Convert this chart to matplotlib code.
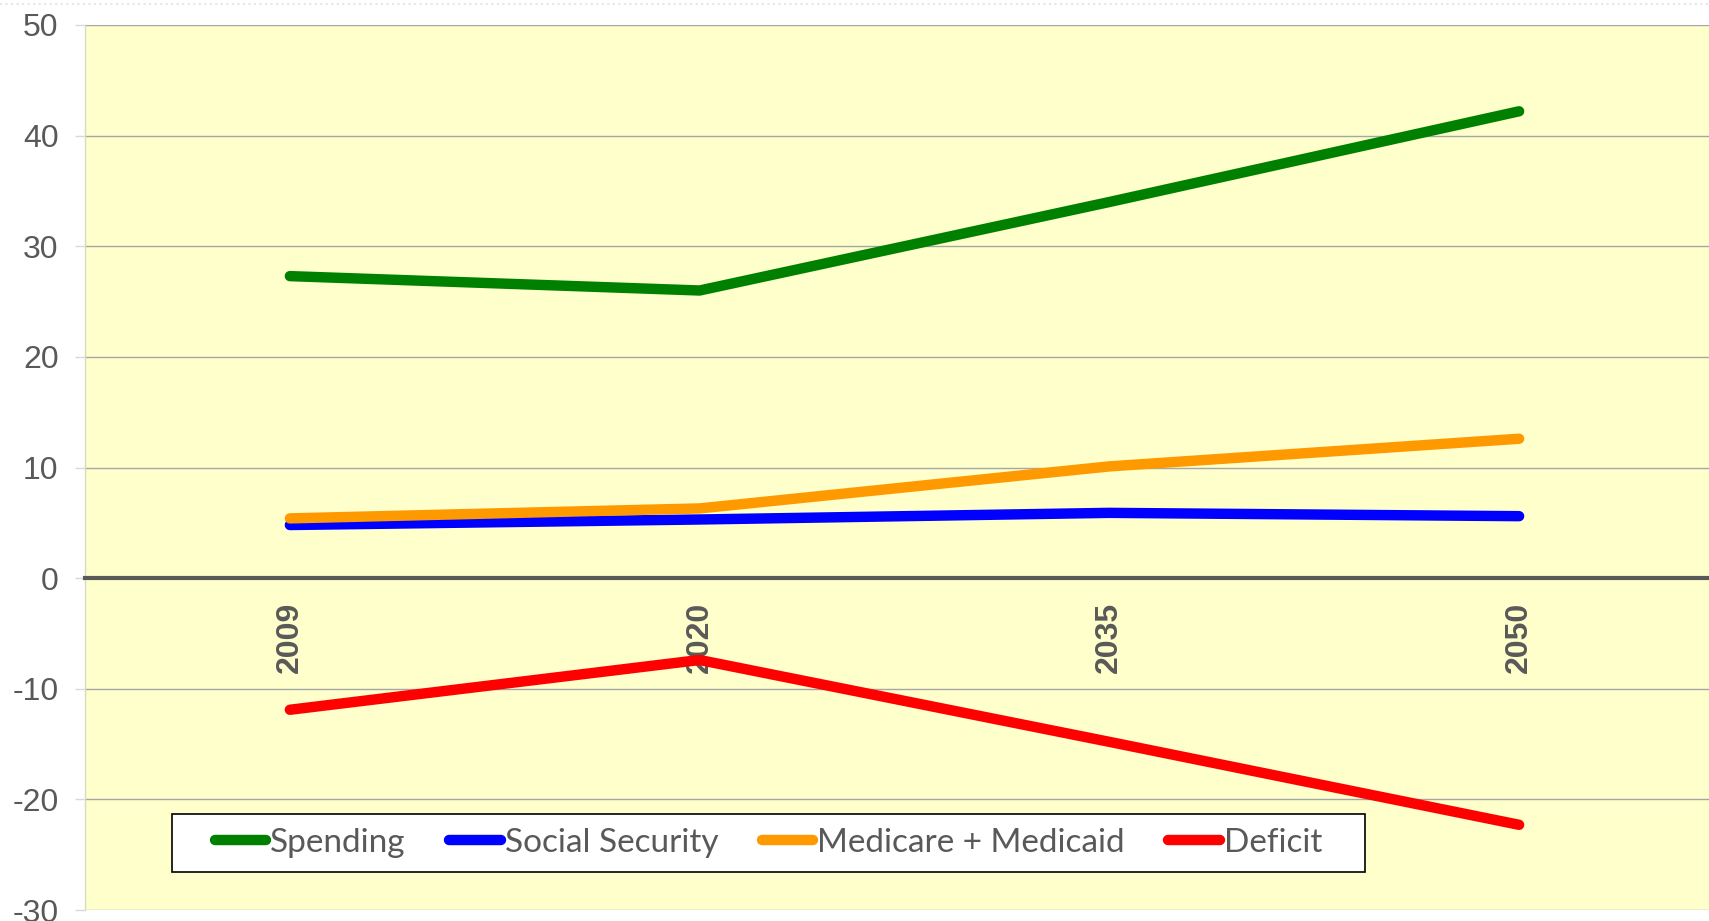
import matplotlib
matplotlib.use('Agg')
from matplotlib import pyplot as plt
from matplotlib.lines import Line2D
from matplotlib.patches import Rectangle

plt.rcParams['axes.unicode_minus'] = False

years = ['2009', '2020', '2035', '2050']
spending = [27.3, 26.0, 34.0, 42.2]
social_security = [4.8, 5.3, 5.9, 5.6]
medicare_medicaid = [5.4, 6.3, 10.1, 12.6]
deficit = [-11.9, -7.4, -14.8, -22.3]
y_ticks = [50, 40, 30, 20, 10, 0, -10, -20, -30]

series = [('Spending', spending, '#008000'),
          ('Social Security', social_security, '#0000FF'),
          ('Medicare + Medicaid', medicare_medicaid, '#FF9900'),
          ('Deficit', deficit, '#FF0000')]

W, H = 1709, 921
fig = plt.figure(figsize=(W / 100, H / 100), dpi=100)
fig.patch.set_facecolor('white')

# plot area runs a bit past the right edge of the picture (cropped original)
left, right, top, bottom = 85, 1724, 25, 910
ax = fig.add_axes([left / W, 1 - bottom / H, (right - left) / W, (bottom - top) / H])
ax.set_facecolor('#FFFFCC')

xs = list(range(len(years)))
for name, vals, col in series:
    ax.plot(xs, vals, color=col, lw=7.5, solid_capstyle='round', label=name, zorder=3)

ax.set_xlim(-0.5, 3.5)
ax.set_ylim(-30, 50)
ax.set_yticks(y_ticks)
ax.yaxis.grid(True, color='#A6A6A6', lw=1)
ax.set_axisbelow(True)

for s in ['top', 'right']:
    ax.spines[s].set_visible(False)
ax.spines['left'].set_color('#D9D9C8')
ax.spines['left'].set_linewidth(1)
ax.spines['bottom'].set_position(('data', 0))
ax.spines['bottom'].set_color('#595959')
ax.spines['bottom'].set_linewidth(3)
ax.spines['bottom'].set_zorder(2.5)

ax.set_xticks(xs)
ax.set_xticklabels(years, rotation=90, fontsize=23, fontweight='bold',
                   color='#595959', family='Liberation Sans', va='top')
ax.tick_params(axis='x', length=0, pad=17)
ax.tick_params(axis='y', length=7, width=1, color='#D9D9D9', pad=12,
               labelsize=23, labelcolor='#595959')
for t in ax.get_yticklabels():
    t.set_family('Liberation Sans')

# legend box (wider than the entries, like the original)
bx0, bx1, by0, by1 = 0.0531, 0.781, 0.0429, 0.1085
ax.add_patch(Rectangle((bx0, by0), bx1 - bx0, by1 - by0, transform=ax.transAxes,
                       facecolor='white', edgecolor='black', lw=1.2, zorder=4))
leg = ax.legend(loc='center', bbox_to_anchor=((bx0 + bx1) / 2, (by0 + by1) / 2),
                borderaxespad=0, ncol=4, frameon=False,
                prop={'family': 'Lato', 'size': 24},
                handlelength=1.55, handletextpad=0.12, columnspacing=1.3,
                borderpad=0.3)
leg.set_zorder(5)
for t in leg.get_texts():
    t.set_color('#595959')

# faint dotted strip along the top edge
fig.add_artist(Line2D([0, 1], [1 - 4 / H, 1 - 4 / H], transform=fig.transFigure,
                      color='#E6E6E6', lw=1.5, ls=':'))

fig.savefig('out.png', dpi=100)
